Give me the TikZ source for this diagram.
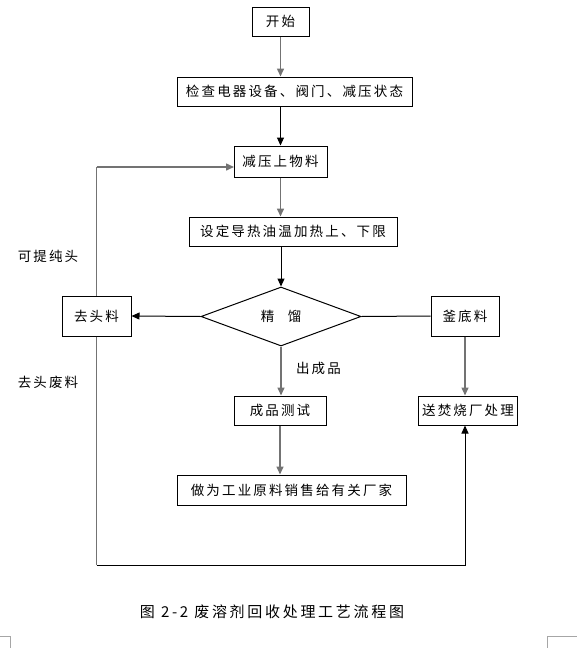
\documentclass[tikz,border=0pt]{standalone}
\usepackage{fontspec}
\setmainfont{Noto Sans CJK SC}[LetterSpace=16]
\usetikzlibrary{shapes.geometric,arrows.meta}

\begin{document}
\begin{tikzpicture}[x=1pt,y=-1pt,
        flow/.style={line width=1pt,black},
        flowgray/.style={line width=1.5pt,black!55},
        tip/.style={-{Triangle[length=8pt,width=7pt]}},
        note/.style={font=\fontsize{13.5pt}{15pt}\selectfont}]
        \useasboundingbox (0,0) rectangle (577,648);
        \begin{scope}[every node/.style={draw,line width=1pt,inner sep=0pt,font=\fontsize{13.5pt}{15pt}\selectfont}]
            \node[minimum width=57,minimum height=29] (start) at (280.5,21.5) {开始};
            \node[minimum width=235,minimum height=29] (check) at (294.5,91.5) {检查电器设备、阀门、减压状态};
            \node[minimum width=93,minimum height=31] (feed) at (280.5,161.5) {减压上物料};
            \node[minimum width=208,minimum height=29] (setlim) at (293,231.5) {设定导热油温加热上、下限};
            \node[diamond,minimum width=160,minimum height=59] (still) at (281,316.5) {精\quad 馏};
            \node[minimum width=69,minimum height=40] (head) at (96.5,316) {去头料};
            \node[minimum width=68,minimum height=40] (bottoms) at (465,316) {釜底料};
            \node[minimum width=92,minimum height=29] (test) at (280,410.5) {成品测试};
            \node[minimum width=99,minimum height=29] (burn) at (468,410.5) {送焚烧厂处理};
            \node[minimum width=229,minimum height=30] (sell) at (291.5,490) {做为工业原料销售给有关厂家};
        \end{scope}
        \coordinate (feedin) at (234,167);
        \coordinate (wasteturn) at (96.5,565);
        % main line
        \draw[flowgray,tip] (start) -- (start |- check.north);
        \draw[flow,tip] (check.south -| feed) -- (feed.north);
        \draw[flowgray,tip] (feed) -- (feed |- setlim.north);
        \draw[flow,tip] (setlim.south -| still) -- (still.north);
        \draw[flow,tip] (still.west) -- (head.east);
        \draw[flow] (still.east) -- (bottoms.west);
        \draw[flowgray,tip] (still.south) -- (still |- test.north);
        \draw[flowgray,tip] (test) -- (test |- sell.north);
        \draw[flowgray,tip] (bottoms) -- (bottoms |- burn.north);
        % head cut loops
        \draw[flowgray] (head.north) -- (head |- feedin);
        \draw[flowgray,tip] (head |- feedin) -- (feedin);
        \draw[flowgray] (head.south) -- (wasteturn);
        \draw[flow,tip] (wasteturn) -| (bottoms |- burn.south);
        % labels
        \node[note] (purelbl) at (48,256) {可提纯头};
        \node[note] (wastelbl) at (48,382) {去头废料};
        \node[note] (outlbl) at (318.5,368) {出成品};
        \node[font=\fontsize{15pt}{17pt}\selectfont\addfontfeature{LetterSpace=18}] (caption) at (272,612) {图 2-2 废溶剂回收处理工艺流程图};
        % page corner marks
        \draw[black!35,line width=1pt] (0,636.5) -- (10,636.5) -- (10,648);
        \draw[black!35,line width=1pt] (577,636.5) -- (547.5,636.5) -- (547.5,648);
    \end{tikzpicture}
\end{document}
